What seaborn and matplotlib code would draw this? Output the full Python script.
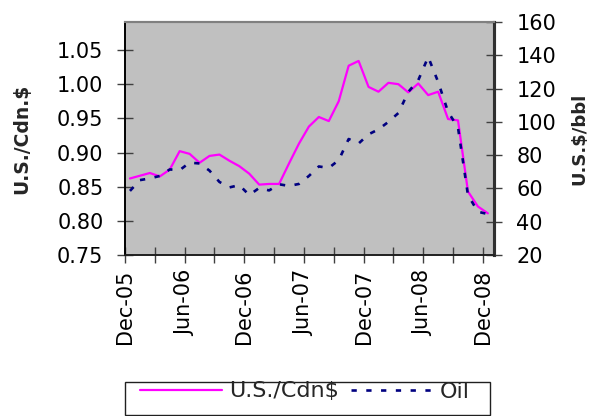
import matplotlib
matplotlib.use("Agg")
import matplotlib.pyplot as plt
import seaborn as sns
import pandas as pd
from matplotlib.patches import Rectangle
from matplotlib.ticker import FormatStrFormatter

# Monthly observations, Dec-05 .. Dec-08
months = ["Dec-05", "Jan-06", "Feb-06", "Mar-06", "Apr-06", "May-06", "Jun-06",
          "Jul-06", "Aug-06", "Sep-06", "Oct-06", "Nov-06", "Dec-06",
          "Jan-07", "Feb-07", "Mar-07", "Apr-07", "May-07", "Jun-07",
          "Jul-07", "Aug-07", "Sep-07", "Oct-07", "Nov-07", "Dec-07",
          "Jan-08", "Feb-08", "Mar-08", "Apr-08", "May-08", "Jun-08",
          "Jul-08", "Aug-08", "Sep-08", "Oct-08", "Nov-08", "Dec-08"]

usd_per_cdn = [0.862, 0.866, 0.870, 0.865, 0.875, 0.902, 0.898,
               0.885, 0.895, 0.897, 0.888, 0.880, 0.869,
               0.853, 0.854, 0.854, 0.884, 0.913, 0.938,
               0.952, 0.946, 0.975, 1.027, 1.034, 0.996,
               0.989, 1.002, 1.000, 0.988, 1.001, 0.984,
               0.989, 0.949, 0.947, 0.843, 0.821, 0.811]

oil_usd_bbl = [58.5, 65.0, 66.0, 67.5, 71.4, 71.0, 75.5,
               75.0, 70.7, 63.9, 60.6, 62.0, 56.0,
               60.3, 58.8, 62.5, 61.5, 62.7, 67.5,
               73.2, 72.3, 77.0, 89.7, 87.0, 92.5,
               95.5, 100.0, 105.3, 118.0, 125.0, 139.0,
               124.0, 106.0, 96.5, 56.0, 46.0, 44.6]

tick_labels = ["Dec-05", "Jun-06", "Dec-06", "Jun-07", "Dec-07", "Jun-08", "Dec-08"]
quarter_marks = ["Mar-06", "Sep-06", "Mar-07", "Sep-07", "Mar-08", "Sep-08"]

left_ticks = [0.75, 0.80, 0.85, 0.90, 0.95, 1.00, 1.05]
right_ticks = [20, 40, 60, 80, 100, 120, 140, 160]

df = pd.DataFrame({"month": range(len(months)),
                   "usd": usd_per_cdn,
                   "oil": oil_usd_bbl})

sns.set_style("white")
plt.rcParams["font.family"] = ["DejaVu Sans"]

W, H = 589, 416
fig = plt.figure(figsize=(W / 100, H / 100), dpi=100)
L, R, T, B = 125, 494, 22, 255
ax = fig.add_axes([L / W, 1 - B / H, (R - L) / W, (B - T) / H])
ax.set_facecolor("#C0C0C0")

sns.lineplot(data=df, x="month", y="usd", ax=ax, color="#FF00FF",
             linewidth=1.6, legend=False)
ax2 = ax.twinx()
sns.lineplot(data=df, x="month", y="oil", ax=ax2, color="#000080",
             linewidth=1.9, linestyle=(0, (2.0, 3.6)), legend=False)

ax.set_xlim(-0.5, 36.62)
ax.set_ylim(0.75, 1.091)
ax2.set_ylim(20, 160)

ax.set_xticks([months.index(m) - 0.5 for m in tick_labels])
ax.set_xticklabels(tick_labels, rotation=90)
ax.set_xticks([months.index(m) - 0.5 for m in quarter_marks], minor=True)
ax.set_yticks(left_ticks)
ax.yaxis.set_major_formatter(FormatStrFormatter("%.2f"))
ax2.set_yticks(right_ticks)

for a in (ax, ax2):
    a.set_xlabel("")
    a.tick_params(axis="both", which="both", direction="inout", length=11,
                  width=1.0, color="#404040", labelsize=15, labelcolor="black")
ax.tick_params(axis="y", pad=10)
ax.tick_params(axis="x", which="both", pad=5, bottom=True)
ax2.tick_params(axis="y", pad=10.5, right=True)

ax.set_ylabel("U.S./Cdn.$", fontsize=13.5, fontweight="bold")
ax.yaxis.set_label_coords((31 - L) / (R - L), 0.5)
ax2.set_ylabel("U.S.$/bbl", fontsize=13, fontweight="bold", rotation=90)
ax2.yaxis.set_label_coords((570 - L) / (R - L), 0.5)

for a in (ax, ax2):
    a.spines["top"].set_color("#808080")
    a.spines["top"].set_linewidth(1.5)
    a.spines["left"].set_color("black")
    a.spines["left"].set_linewidth(1.2)
    a.spines["bottom"].set_color("#202020")
    a.spines["bottom"].set_linewidth(1.2)
    a.spines["right"].set_color("#303030")
    a.spines["right"].set_linewidth(2.2)

leg = fig.legend([ax.lines[0], ax2.lines[0]], ["U.S./Cdn$", "Oil"],
                 loc="center", bbox_to_anchor=(305 / W, 1 - 391.5 / H),
                 ncol=2, frameon=False, fontsize=16, handlelength=3.7,
                 handletextpad=0.3, columnspacing=0.55)

fig.add_artist(Rectangle((125 / W, 1 - 415 / H), (490 - 125) / W, (415 - 382) / H,
                         transform=fig.transFigure, fill=False,
                         edgecolor="#202020", linewidth=1.0))

fig.savefig("out.png", dpi=100)
